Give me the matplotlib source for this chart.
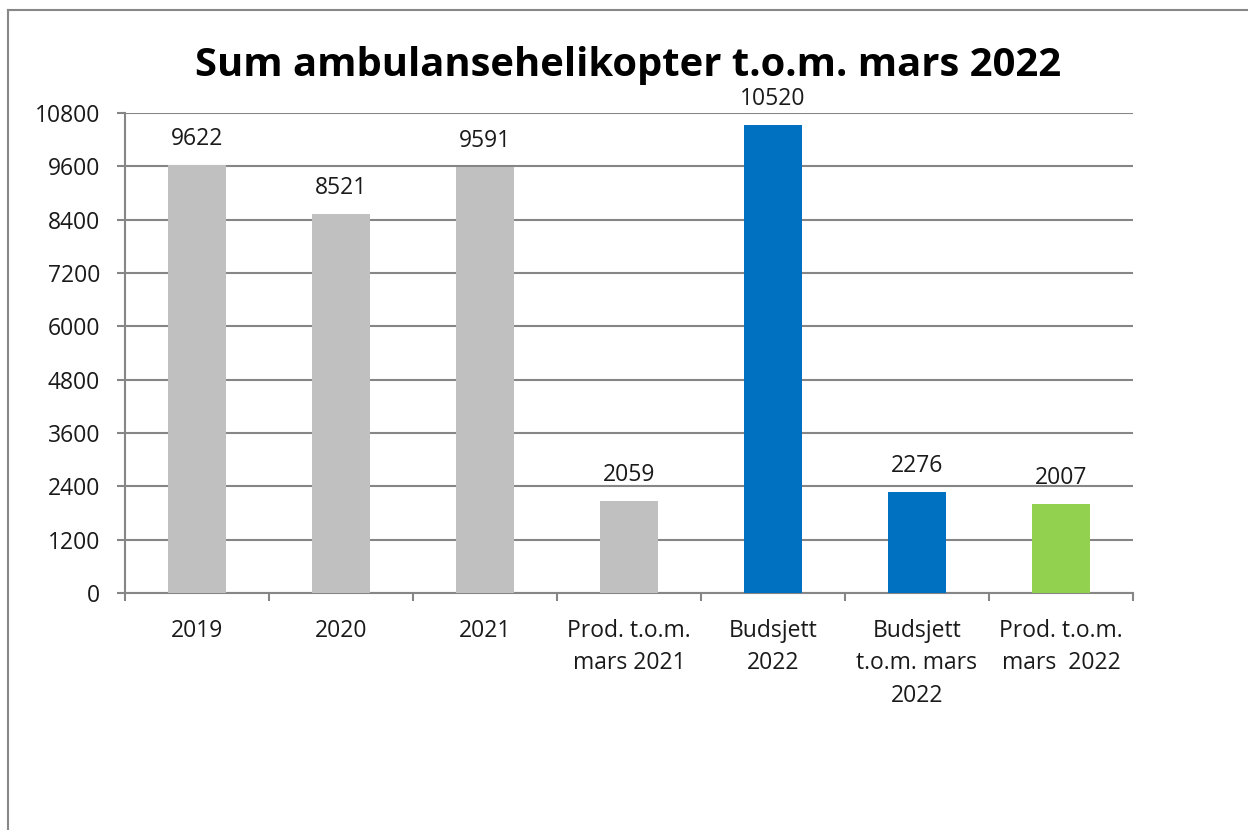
import matplotlib
matplotlib.use("Agg")
import matplotlib.pyplot as plt
from matplotlib.lines import Line2D

categories = ["2019", "2020", "2021", "Prod. t.o.m.\nmars 2021", "Budsjett\n2022",
              "Budsjett\nt.o.m. mars\n2022", "Prod. t.o.m.\nmars  2022"]
values = [9622, 8521, 9591, 2059, 10520, 2276, 2007]
bar_colors = ["#C0C0C0", "#C0C0C0", "#C0C0C0", "#C0C0C0", "#0070C0", "#0070C0", "#92D050"]
title = "Sum ambulansehelikopter t.o.m. mars 2022"
yticks = [0, 1200, 2400, 3600, 4800, 6000, 7200, 8400, 9600, 10800]

plt.rcParams['font.family'] = ['Open Sans', 'DejaVu Sans']
W, H, DPI = 1248, 830, 100
fig = plt.figure(figsize=(W / DPI, H / DPI), dpi=DPI)
fig.patch.set_facecolor("white")

grid_c = "#868686"
txt_c = "#1a1a1a"
fs = 16.5

ax = fig.add_axes([125 / W, 1 - 593 / H, 1008 / W, 480 / H])
x = list(range(len(categories)))
bars = ax.bar(x, values, width=0.4, color=bar_colors, zorder=3)
ax.set_xlim(-0.5, len(categories) - 0.5)
ax.set_ylim(0, 10800)
ax.set_yticks(yticks)
ax.set_yticklabels([str(v) for v in yticks])
ax.yaxis.grid(True, color=grid_c, linewidth=1.5, zorder=0)
ax.set_axisbelow(True)
for s in ["top", "right"]:
    ax.spines[s].set_visible(False)
for s in ["left", "bottom"]:
    ax.spines[s].set_color(grid_c)
    ax.spines[s].set_linewidth(1.5)

ax.set_xticks(x)
ax.set_xticklabels(categories, fontsize=fs, color=txt_c, linespacing=1.45)
ax.set_xticks([i - 0.5 for i in range(len(categories) + 1)], minor=True)
ax.tick_params(axis="x", which="major", length=0, pad=19)
ax.tick_params(axis="x", which="minor", length=6, width=1.5, color=grid_c, direction="out")
ax.tick_params(axis="y", length=6, width=1.5, color=grid_c, direction="out", pad=12,
               labelsize=fs, labelcolor=txt_c)

for xi, v in zip(x, values):
    ax.annotate(str(v), (xi, v), xytext=(0, 14.5), textcoords="offset points",
                ha="center", va="baseline", fontsize=fs, color=txt_c)

# title autofit to measured width
t = fig.text(628 / W, 1 - 76 / H, title, ha="center", va="baseline",
             fontsize=30, fontweight="bold", color="black")
fig.canvas.draw()
bb = t.get_window_extent()
t.set_fontsize(30 * 867 / bb.width)

# outer chart border (left & top visible)
fig.add_artist(Line2D([8 / W, 8 / W], [0, 1 - 10 / H], color="#878787", linewidth=1.5,
                      transform=fig.transFigure))
fig.add_artist(Line2D([8 / W, 1], [1 - 10 / H, 1 - 10 / H], color="#878787", linewidth=1.5,
                      transform=fig.transFigure))

fig.savefig("out.png", dpi=DPI, facecolor="white")
